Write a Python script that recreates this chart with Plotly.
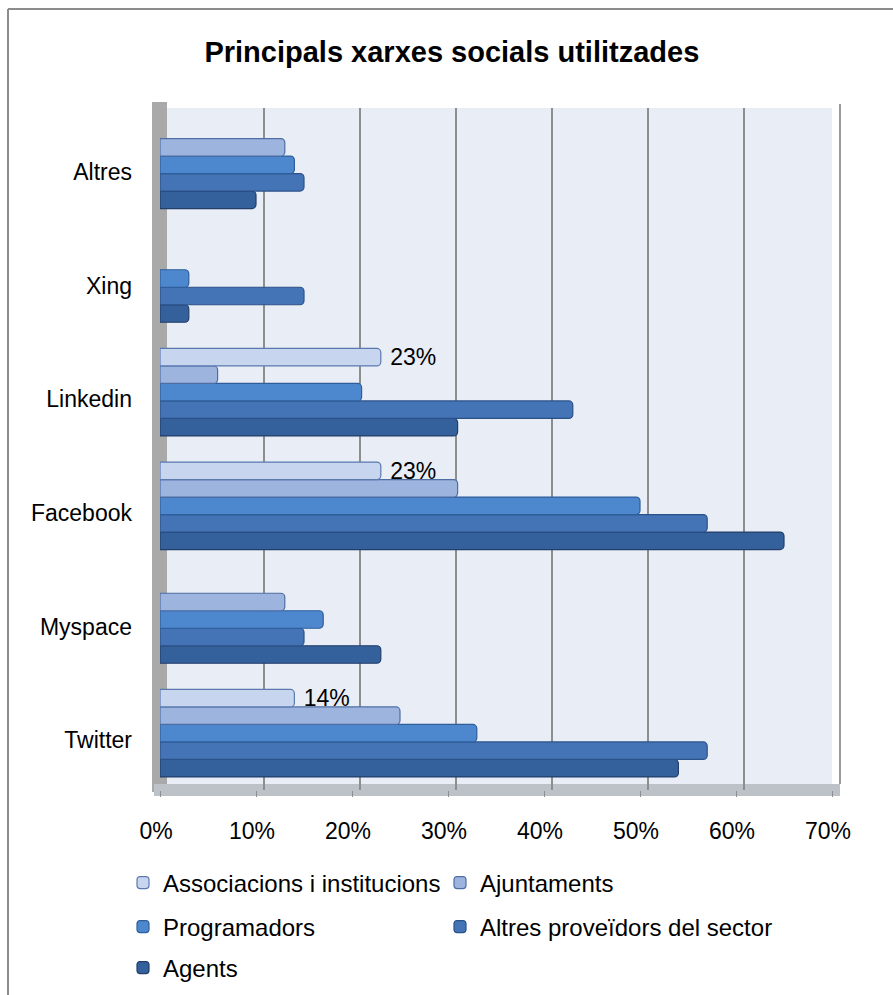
import plotly.graph_objects as go

categories = ["Twitter", "Myspace", "Facebook", "Linkedin", "Xing", "Altres"]

associacions = [14, None, 23, 23, None, None]
ajuntaments = [25, 13, 31, 6, None, 13]
programadors = [33, 17, 50, 21, 3, 14]
altres_proveidors = [57, 15, 57, 43, 15, 15]
agents = [54, 23, 65, 31, 3, 10]

x_ticks = [0, 10, 20, 30, 40, 50, 60, 70]
x_tick_labels = ["0%", "10%", "20%", "30%", "40%", "50%", "60%", "70%"]

series = [
    ("Agents", agents, "#34619B", "#223F69", "legend5"),
    ("Altres proveïdors del sector", altres_proveidors, "#4474B5", "#2B5288", "legend4"),
    ("Programadors", programadors, "#4D88CF", "#2F5E9A", "legend3"),
    ("Ajuntaments", ajuntaments, "#9DB4DE", "#4F6EA3", "legend2"),
    ("Associacions i institucions", associacions, "#C8D5EF", "#5A7AAF", "legend"),
]

FONT = "Liberation Sans, Arial, sans-serif"

fig = go.Figure()
for name, vals, fill, line, leg in series:
    show_text = name.startswith("Associacions")
    labels = [(" " + str(v) + "%") if (show_text and v is not None) else "" for v in vals]
    fig.add_trace(go.Bar(
        y=categories, x=vals, name=name, orientation="h",
        marker=dict(color=fill, line=dict(color=line, width=1.2)),
        text=labels, texttemplate="%{text}",
        textposition="outside" if show_text else "none",
        textfont=dict(family=FONT, size=23, color="#000000"),
        constraintext="none", cliponaxis=False,
        legend=leg,
    ))

# empty helper trace so the back-wall grid axis gets drawn (no marks)
fig.add_trace(go.Scatter(x=[], y=[], xaxis="x2", yaxis="y", showlegend=False,
                         hoverinfo="skip", mode="lines"))

W, H = 893, 995
L, R, T, B = 160, 61, 108, 205
pw, ph = W - L - R, H - T - B
PX_PER_UNIT = pw / 70.0
BACK_SHIFT = 8  # back-wall gridlines sit a few px right of the front scale

def px(xp):
    return (xp - L) / pw

def py(yp):
    return (H - B - yp) / ph

shapes = [
    # left wall
    dict(type="rect", xref="paper", yref="paper", x0=px(152), x1=px(167), y0=py(792), y1=py(102),
         fillcolor="#A9A9A9", line=dict(width=0), layer="below"),
    # floor
    dict(type="rect", xref="paper", yref="paper", x0=px(154), x1=px(840), y0=py(796), y1=py(784),
         fillcolor="#BDC1C8", line=dict(width=0), layer="below"),
    # right wall edge
    dict(type="line", xref="paper", yref="paper", x0=px(840), x1=px(840), y0=py(784), y1=py(104),
         line=dict(color="#9A9A9A", width=2), layer="below"),
    # chart frame
    dict(type="line", xref="paper", yref="paper", x0=px(8), x1=px(900), y0=py(9), y1=py(9),
         line=dict(color="#8C8C8C", width=2)),
    dict(type="line", xref="paper", yref="paper", x0=px(8), x1=px(8), y0=py(9), y1=py(1000),
         line=dict(color="#8C8C8C", width=2)),
]

legend_font = dict(family=FONT, size=24, color="#000000")

def leg(xpix, ypix):
    return dict(orientation="h", xref="container", yref="container", x=xpix / W,
                xanchor="left", yanchor="middle", font=legend_font,
                bgcolor="rgba(0,0,0,0)", y=1 - ypix / H)

shift_units = BACK_SHIFT / PX_PER_UNIT

fig.update_layout(
    width=W, height=H,
    margin=dict(l=L, r=R, t=T, b=B, autoexpand=False),
    paper_bgcolor="#FFFFFF",
    plot_bgcolor="#E9EDF6",
    barmode="group", bargap=0.23, bargroupgap=0.0, barcornerradius=4,
    font=dict(family=FONT, size=23, color="#000000"),
    title=dict(text="<b>Principals xarxes socials utilitzades</b>", xref="container", yref="container",
               x=0.506, xanchor="center", y=1 - 52 / H, yanchor="middle",
               font=dict(family=FONT, size=29, color="#000000")),
    xaxis=dict(range=[0, 70], tickvals=x_ticks, ticktext=x_tick_labels, showgrid=False,
               zeroline=False, showline=False,
               ticks="outside", ticklen=6, tickcolor="#8E8E8E", tickwidth=1,
               ticklabelstandoff=14, ticklabelshift=-4,
               tickfont=dict(family=FONT, size=23, color="#000000"), fixedrange=True),
    xaxis2=dict(overlaying="x", range=[-shift_units, 70 - shift_units], tickvals=x_ticks[1:-1],
                showticklabels=False, ticks="", showgrid=True, gridcolor="#8E8E8E", gridwidth=2,
                zeroline=False, showline=False, fixedrange=True, side="bottom"),
    yaxis=dict(type="category", categoryorder="array", categoryarray=categories,
               showgrid=False, zeroline=False, showline=False, ticks="",
               ticklabelstandoff=27, ticklabelshift=7,
               tickfont=dict(family=FONT, size=23, color="#000000"), fixedrange=True),
    shapes=shapes,
    showlegend=True,
    legend=leg(123, 883),
    legend2=leg(440, 883),
    legend3=leg(123, 927),
    legend4=leg(440, 927),
    legend5=leg(123, 968),
)

fig.write_html("out.html", config={"displayModeBar": False},
               post_script="document.body.style.margin='0';")
